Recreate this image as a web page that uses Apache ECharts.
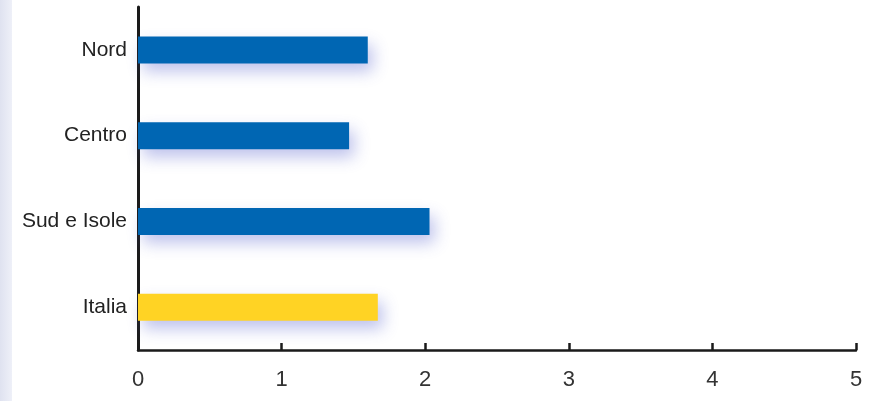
<!DOCTYPE html>
<html>
<head>
<meta charset="utf-8">
<script src="https://cdn.jsdelivr.net/npm/echarts@6/dist/echarts.min.js"></script>
<style>
html,body{margin:0;padding:0;background:#fff;}
#c{width:874px;height:401px;}
</style>
</head>
<body>
<div id="c"></div>
<script>
const categories = ["Nord", "Centro", "Sud e Isole", "Italia"];
const values = [1.6, 1.47, 2.03, 1.67];
const barColors = ["#0066b3", "#0066b3", "#0066b3", "#ffd324"];
const xTicks = [0, 1, 2, 3, 4, 5];

const chart = echarts.init(document.getElementById('c'));
const font = '"Liberation Sans Narrow", "Liberation Sans", Arial, sans-serif';
chart.setOption({
  animation: false,
  backgroundColor: '#ffffff',
  graphic: [{
    type: 'rect', left: 0, top: 0, z: -10,
    shape: {width: 12, height: 401},
    style: {fill: new echarts.graphic.LinearGradient(0,0,1,0,[{offset:0,color:'#dfe2f0'},{offset:1,color:'#eef0f8'}])}
  }],
  grid: {left: 138, right: 18, top: 7, bottom: 51, containLabel: false},
  xAxis: {
    type: 'value', min: xTicks[0], max: xTicks[xTicks.length-1], interval: 1,
    axisLine: {show: true, lineStyle: {color: '#1a1a1a', width: 2.5}},
    axisTick: {show: true, inside: true, length: 7, lineStyle: {color: '#1a1a1a', width: 2.5}},
    splitLine: {show: false},
    axisLabel: {color: '#333', fontFamily: font, fontSize: 22, margin: 19}
  },
  yAxis: {
    type: 'category', data: categories, inverse: true,
    axisLine: {show: true, lineStyle: {color: '#1a1a1a', width: 3}},
    axisTick: {show: false},
    axisLabel: {color: '#222', fontFamily: font, fontSize: 21, margin: 11}
  },
  series: [{
    type: 'bar',
    barWidth: 27,
    data: values.map((v, i) => ({value: v, itemStyle: {color: barColors[i]}})),
    itemStyle: {shadowBlur: 16, shadowColor: 'rgba(70,80,200,0.35)', shadowOffsetX: 5, shadowOffsetY: 8}
  }]
});
</script>
</body>
</html>
